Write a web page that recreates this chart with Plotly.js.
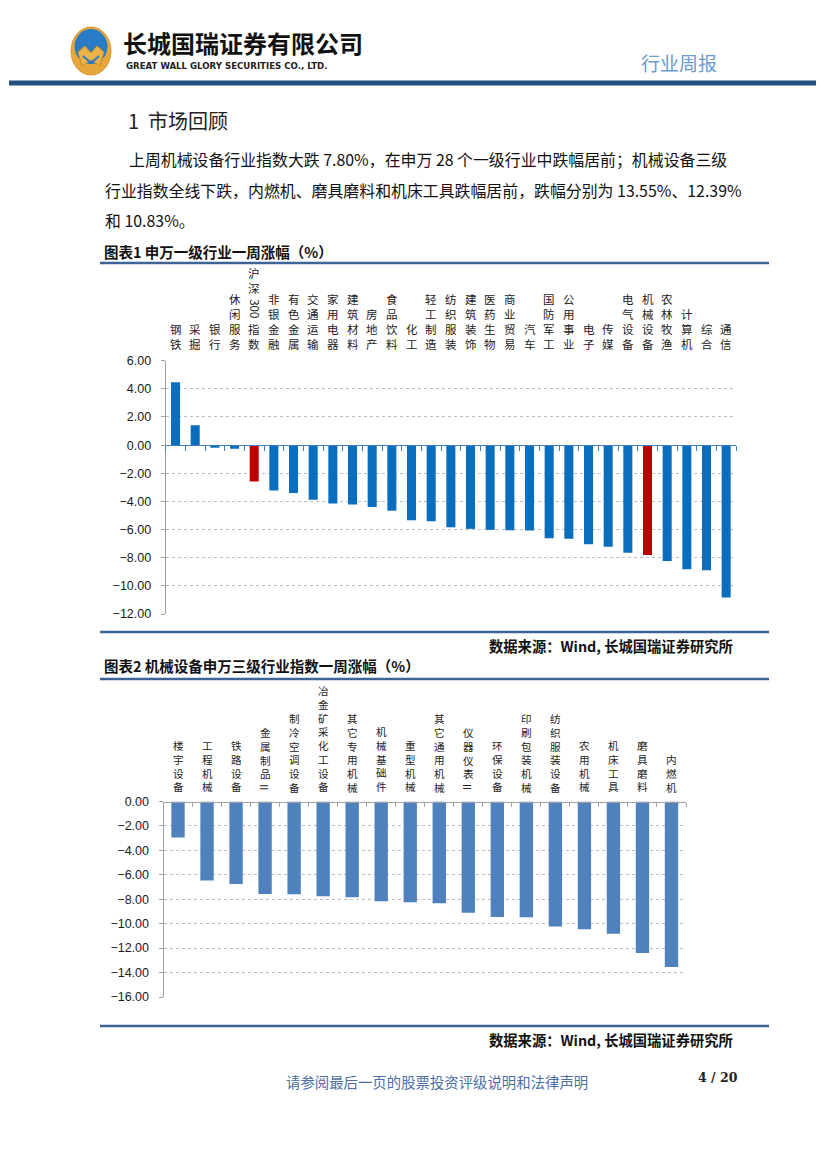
<!DOCTYPE html>
<html>
<head>
<meta charset="utf-8">
<script src="https://cdn.plot.ly/plotly-3.0.1.min.js"></script>
<style>
html,body{margin:0;padding:0;background:#fff;}
#page{width:827px;height:1169px;}
</style>
</head>
<body>
<div id="page"></div>
<script>
// ---------- DATA ----------
const industries1 = ["钢铁","采掘","银行","休闲服务","沪深300指数","非银金融","有色金属","交通运输","家用电器","建筑材料","房地产","食品饮料","化工","轻工制造","纺织服装","建筑装饰","医药生物","商业贸易","汽车","国防军工","公用事业","电子","传媒","电气设备","机械设备","农林牧渔","计算机","综合","通信"];
const change1 = [4.47,1.41,-0.19,-0.26,-2.59,-3.22,-3.41,-3.88,-4.14,-4.21,-4.40,-4.66,-5.34,-5.41,-5.84,-5.95,-6.02,-6.05,-6.07,-6.61,-6.66,-7.04,-7.22,-7.65,-7.80,-8.24,-8.82,-8.89,-10.82];
const highlight1 = ["沪深300指数","机械设备"];

const subIndustries2 = ["楼宇设备","工程机械","铁路设备","金属制品Ⅱ","制冷空调设备","冶金矿采化工设备","其它专用机械","机械基础件","重型机械","其它通用机械","仪器仪表Ⅱ","环保设备","印刷包装机械","纺织服装设备","农用机械","机床工具","磨具磨料","内燃机"];
const change2 = [-2.95,-6.46,-6.76,-7.57,-7.60,-7.76,-7.84,-8.16,-8.24,-8.32,-9.10,-9.46,-9.47,-10.22,-10.46,-10.83,-12.39,-13.55];

const yTicks1 = [6,4,2,0,-2,-4,-6,-8,-10,-12];
const yTicks2 = [0,-2,-4,-6,-8,-10,-12,-14,-16];

// ---------- helpers ----------
const W = 827, H = 1169;
const px = p => p / W;
const py = p => 1 - p / H;
const CJK = '"Noto Sans CJK SC", "Noto Sans", sans-serif';
const NUM = '"Liberation Sans", Arial, sans-serif';

const annotations = [];
const shapes = [];

function txt(text, x, y, opt) {
  opt = opt || {};
  annotations.push({
    text: text, xref: 'paper', yref: 'paper', x: px(x), y: py(y),
    xanchor: opt.xanchor || 'left', yanchor: 'middle', showarrow: false,
    font: {family: opt.family || CJK, size: opt.size || 14, color: opt.color || '#222',
           weight: opt.weight || 'normal'}
  });
}
function hline(x0, x1, y, color, w) {
  shapes.push({type: 'line', xref: 'paper', yref: 'paper', x0: px(x0), x1: px(x1),
               y0: py(y), y1: py(y), line: {color: color, width: w}});
}

// vertical stacked category labels: groups of upright characters in one
// multi-line annotation, digit runs and "Ⅱ" rotated as in vertical text
function vlabels(names, xref, bottomCenterPx, fsize) {
  const pitch = fsize * 1.3;
  names.forEach(name => {
    const tokens = name.match(/\d+|Ⅱ|./g);
    let edge = bottomCenterPx + pitch / 2;
    let group = [];
    const flush = () => {
      if (!group.length) return;
      const h = group.length * pitch;
      const c = edge - h / 2;
      edge -= h;
      annotations.push({
        text: group.join('<br>'), xref: xref, yref: 'paper', x: name, y: py(c),
        xanchor: 'center', yanchor: 'middle', showarrow: false, borderpad: 0,
        font: {family: CJK, size: fsize, color: '#222'}
      });
      group = [];
    };
    for (let i = tokens.length - 1; i >= 0; i--) {
      const t = tokens[i];
      if (/^\d+$/.test(t) || t === 'Ⅱ') {
        flush();
        const h = /^\d+$/.test(t) ? fsize * 0.56 * t.length + 6 : pitch;
        const c = edge - h / 2;
        edge -= h;
        annotations.push({
          text: t, xref: xref, yref: 'paper', x: name, y: py(c),
          xanchor: 'center', yanchor: 'middle', showarrow: false, borderpad: 0,
          textangle: 90, font: {family: CJK, size: fsize, color: '#222'}
        });
      } else {
        group.unshift(t);
      }
    }
    flush();
  });
}

// ---------- page header ----------
shapes.push({type:'circle', xref:'paper', yref:'paper', x0:px(71), x1:px(111), y0:py(27), y1:py(75),
             fillcolor:'#E6A83C', line:{color:'#D8952A', width:1}});
shapes.push({type:'circle', xref:'paper', yref:'paper', x0:px(74.5), x1:px(107.5), y0:py(29), y1:py(64),
             fillcolor:'#2A7BC6', line:{width:0}});
shapes.push({type:'path', xref:'paper', yref:'paper',
  path:`M ${px(78)} ${py(52)} L ${px(85)} ${py(46)} L ${px(91)} ${py(53)} L ${px(97)} ${py(46)} L ${px(104)} ${py(52)} L ${px(100)} ${py(66)} L ${px(91)} ${py(60)} L ${px(82)} ${py(66)} Z`,
  fillcolor:'#E9B24A', line:{color:'#C98A22', width:1}});
shapes.push({type:'path', xref:'paper', yref:'paper',
  path:`M ${px(83)} ${py(56)} L ${px(91)} ${py(63)} L ${px(99)} ${py(56)}`,
  line:{color:'#2A7BC6', width:2}});

txt('长城国瑞证券有限公司', 121, 42.5, {size: 24, weight: 'bold', color: '#111'});
txt('GREAT WALL GLORY SECURITIES CO., LTD.', 124, 66, {size: 8.6, weight: 'bold', color: '#222', family: '"DejaVu Sans", sans-serif'});
txt('行业周报', 639, 63, {size: 19, color: '#6A9ACF'});
hline(9, 816, 83, '#254F7F', 5);

// ---------- body text ----------
txt('1  市场回顾', 126, 121, {size: 20, color: '#222'});
txt('上周机械设备行业指数大跌 7.80%，在申万 28 个一级行业中跌幅居前；机械设备三级', 127, 159, {size: 15.9, color: '#111'});
txt('行业指数全线下跌，内燃机、磨具磨料和机床工具跌幅居前，跌幅分别为 13.55%、12.39%', 103, 190, {size: 15.9, color: '#111'});
txt('和 10.83%。', 103, 220, {size: 15.9, color: '#111'});

txt('图表1 申万一级行业一周涨幅（%）', 102, 251, {size: 14.5, weight: 'bold', color: '#111'});
hline(100, 769, 263, '#3C6496', 2.5);
hline(100, 769, 632, '#3C6496', 2.5);
txt('数据来源：Wind, 长城国瑞证券研究所', 735, 645, {size: 14.3, weight: 'bold', color: '#111', xanchor: 'right'});

txt('图表2 机械设备申万三级行业指数一周涨幅（%）', 102, 665, {size: 14.5, weight: 'bold', color: '#111'});
hline(100, 769, 679, '#3C6496', 2.5);
hline(100, 769, 1026, '#3C6496', 2.5);
txt('数据来源：Wind, 长城国瑞证券研究所', 735, 1039, {size: 14.3, weight: 'bold', color: '#111', xanchor: 'right'});

txt('请参阅最后一页的股票投资评级说明和法律声明', 284, 1081, {size: 14.4, color: '#4D6FA6'});
txt('4 / 20', 740, 1077, {size: 12.5, weight: 'bold', color: '#222', xanchor: 'right', family: '"DejaVu Serif", serif'});

// ---------- category labels ----------
vlabels(industries1, 'x', 343.5, 11.5);
vlabels(subIndustries2, 'x2', 787, 10.6);

// ---------- traces ----------
const colors1 = industries1.map(n => highlight1.includes(n) ? '#C00000' : '#0A6EBE');
const trace1 = {type: 'bar', x: industries1, y: change1, xaxis: 'x', yaxis: 'y',
  marker: {color: colors1, line: {width: 0}}, hoverinfo: 'x+y'};
const trace2 = {type: 'bar', x: subIndustries2, y: change2, xaxis: 'x2', yaxis: 'y2',
  marker: {color: '#4F81BD', line: {width: 0}}, hoverinfo: 'x+y'};

// chart geometry
const c1 = {x0: 165.7, x1: 736, yTop: 360.7, yBot: 614, yZero: 445};
const c2 = {x0: 163.5, x1: 686, yTop: 801.5, yBot: 997};

const yaxisCommon = {
  showline: true, linecolor: '#A0A0A0', linewidth: 1,
  ticks: 'outside', ticklen: 4, tickcolor: '#A0A0A0',
  tickformat: '.2f', tickfont: {family: NUM, size: 12.5, color: '#1a1a1a'},
  ticklabelstandoff: 7,
  showgrid: true, gridcolor: '#BDBDBD', griddash: 'dot', gridwidth: 1,
  zeroline: false, fixedrange: true
};

const layout = {
  width: W, height: H, margin: {l: 0, r: 0, t: 0, b: 0},
  paper_bgcolor: '#fff', plot_bgcolor: 'rgba(0,0,0,0)',
  showlegend: false, bargap: 0.54,
  xaxis: {domain: [px(c1.x0), px(c1.x1)], anchor: 'free', position: py(c1.yZero),
    type: 'category', showline: true, linecolor: '#3F7CC0', linewidth: 1.3,
    ticks: 'outside', tickson: 'boundaries', ticklen: 5, tickcolor: '#3F7CC0',
    showticklabels: false, showgrid: false, zeroline: false, fixedrange: true},
  yaxis: Object.assign({}, yaxisCommon, {domain: [py(c1.yBot), py(c1.yTop)], anchor: 'x',
    range: [-12, 6], tickvals: yTicks1}),
  xaxis2: {domain: [px(c2.x0), px(c2.x1)], anchor: 'free', position: py(c2.yTop),
    type: 'category', showline: true, linecolor: '#A0A0A0', linewidth: 1,
    ticks: 'outside', tickson: 'boundaries', ticklen: 4, tickcolor: '#A0A0A0',
    showticklabels: false, showgrid: false, zeroline: false, fixedrange: true},
  yaxis2: Object.assign({}, yaxisCommon, {domain: [py(c2.yBot), py(c2.yTop)], anchor: 'x2',
    range: [-16, 0], tickvals: yTicks2}),
  annotations: annotations,
  shapes: shapes
};

Plotly.newPlot('page', [trace1, trace2], layout, {staticPlot: true, displayModeBar: false});
</script>
</body>
</html>
